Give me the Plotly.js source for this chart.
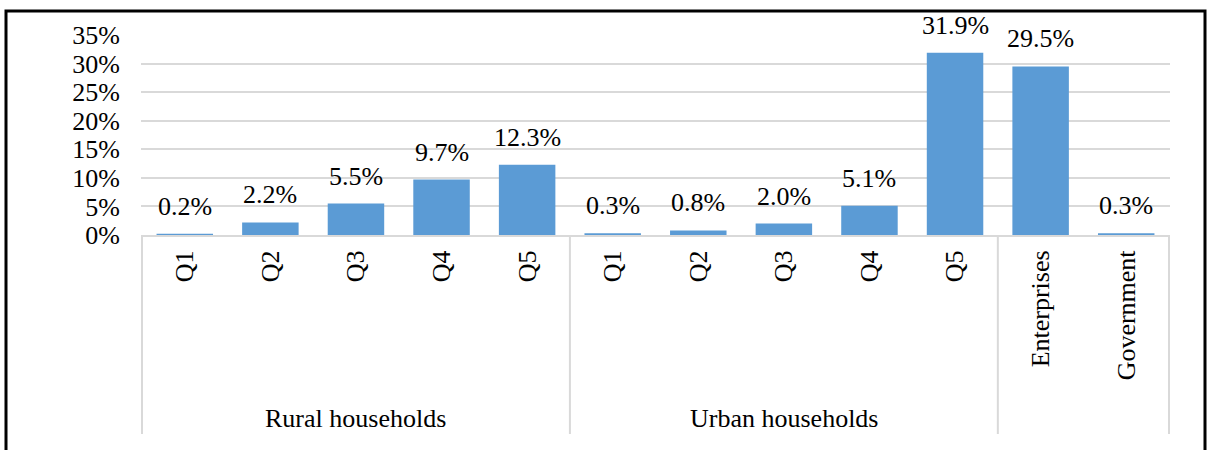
<!DOCTYPE html>
<html>
<head>
<meta charset="utf-8">
<script src="https://cdn.plot.ly/plotly-3.0.1.min.js"></script>
<style>
  html, body { margin: 0; padding: 0; background: #ffffff; }
  #chart { width: 1211px; height: 450px; }
</style>
</head>
<body>
<div id="chart"></div>
<script>
// ---- data ----
const groups     = ["Rural households", "Rural households", "Rural households", "Rural households", "Rural households",
                    "Urban households", "Urban households", "Urban households", "Urban households", "Urban households",
                    "", ""];
const subLabels  = ["Q1", "Q2", "Q3", "Q4", "Q5", "Q1", "Q2", "Q3", "Q4", "Q5", "Enterprises", "Government"];
const values     = [0.2, 2.2, 5.5, 9.7, 12.3, 0.3, 0.8, 2.0, 5.1, 31.9, 29.5, 0.3];
const yTicks     = [0, 5, 10, 15, 20, 25, 30, 35];

// ---- build ----
const FONT = '"Liberation Serif", "Times New Roman", serif';
const cats = subLabels.map((s, i) => (groups[i] ? groups[i] + " " : "") + s);

const bar = {
  type: 'bar',
  x: cats,
  y: values,
  marker: { color: '#5b9bd5' },
  hoverinfo: 'none'
};

const annotations = values.map((v, i) => ({
  x: i, y: v, xref: 'x', yref: 'y',
  text: v.toFixed(1) + '%',
  showarrow: false,
  yanchor: 'bottom',
  yshift: 11,
  font: { family: FONT, size: 26, color: '#000' }
}));

// group labels and dividers
const shapes = [];
const divColor = '#d9d9d9';
let start = 0;
const boundaries = [-0.5];
for (let i = 1; i <= groups.length; i++) {
  if (i === groups.length || groups[i] !== groups[start] || groups[start] === "") {
    if (groups[start] !== "") {
      annotations.push({
        x: (start + i - 1) / 2, xref: 'x',
        y: -0.915, yref: 'paper',
        text: groups[start], showarrow: false,
        xanchor: 'center', yanchor: 'middle',
        font: { family: FONT, size: 26, color: '#000' }
      });
      boundaries.push(i - 0.5);
    }
    start = i;
  }
}
boundaries.push(groups.length - 0.5);
[...new Set(boundaries)].forEach(b => {
  shapes.push({
    type: 'line', xref: 'x', yref: 'paper',
    x0: b, x1: b, y0: 0, y1: -0.995,
    line: { color: divColor, width: 2 }
  });
});

// outer frame
shapes.push({
  type: 'rect', xref: 'paper', yref: 'paper',
  x0: (6 - 141) / 1029, x1: (1205 - 141) / 1029,
  y0: (235 - 470) / 200, y1: (235 - 11) / 200,
  line: { color: '#000', width: 3 },
  fillcolor: 'rgba(0,0,0,0)'
});

const layout = {
  width: 1211, height: 450,
  margin: { l: 141, r: 41, t: 35, b: 215 },
  paper_bgcolor: '#ffffff',
  plot_bgcolor: '#ffffff',
  showlegend: false,
  bargap: 0.34,
  font: { family: FONT, size: 26, color: '#000' },
  xaxis: {
    type: 'category',
    tickvals: cats,
    ticktext: subLabels,
    tickangle: -90,
    ticks: '',
    ticklabelstandoff: 3,
    showline: true, linecolor: divColor, linewidth: 2,
    showgrid: false,
    tickfont: { family: FONT, size: 26, color: '#000' },
    fixedrange: true
  },
  yaxis: {
    range: [0, 35],
    tickvals: yTicks,
    ticktext: yTicks.map(t => t + '%'),
    showgrid: true, gridcolor: divColor, gridwidth: 2,
    zeroline: false,
    showline: false,
    ticks: '',
    ticklabelstandoff: 20,
    tickfont: { family: FONT, size: 26, color: '#000' },
    fixedrange: true
  },
  annotations: annotations,
  shapes: shapes
};

Plotly.newPlot('chart', [bar], layout, { displayModeBar: false, staticPlot: true });
</script>
</body>
</html>
